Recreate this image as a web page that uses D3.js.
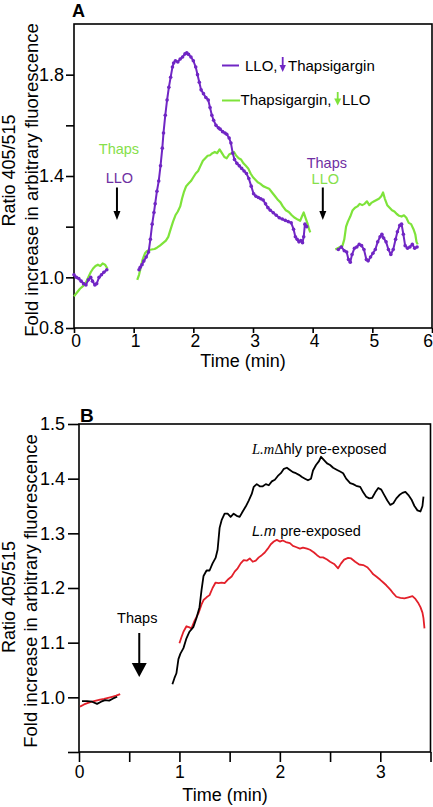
<!DOCTYPE html>
<html>
<head>
<meta charset="utf-8">
<script src="https://cdn.jsdelivr.net/npm/d3@7"></script>
<style>
  html, body { margin: 0; padding: 0; background: #fff; }
  svg { display: block; font-family: "Liberation Sans", Arial, Helvetica, sans-serif; }
</style>
</head>
<body>
<svg id="chart" width="433" height="807"></svg>
<script>
// ---------------- DATA ----------------
// Panel A: [time (min), ratio]; null = gap in recording
const aXTicks = [0, 1, 2, 3, 4, 5, 6];
const aYTicks = [0.8, 1.0, 1.2, 1.4, 1.6, 1.8];
const aYLabels = [0.8, 1.0, 1.4, 1.8];

const aLLOThenThaps = [
  [0,1.01],[0.04,1.0],[0.08,0.995],[0.12,0.985],[0.16,0.975],[0.2,0.97],[0.24,0.99],[0.28,1.0],[0.31,0.985],[0.35,0.97],[0.38,0.975],[0.42,1.0],[0.46,1.01],[0.5,1.02],[0.55,1.03],
  null,
  [1.09,1.03],[1.11,1.04],[1.14,1.05],[1.17,1.064],[1.21,1.08],[1.25,1.10],[1.28,1.15],[1.31,1.21],[1.34,1.256],[1.36,1.29],[1.39,1.34],[1.42,1.38],[1.45,1.44],[1.48,1.51],[1.50,1.57],[1.53,1.64],[1.56,1.70],[1.59,1.75],[1.62,1.79],[1.65,1.83],[1.67,1.846],[1.70,1.855],[1.74,1.85],[1.78,1.862],[1.82,1.87],[1.86,1.882],[1.89,1.886],[1.92,1.88],[1.96,1.87],[2.0,1.855],[2.04,1.83],[2.07,1.80],[2.10,1.77],[2.13,1.74],[2.17,1.725],[2.21,1.71],[2.25,1.70],[2.28,1.67],[2.31,1.64],[2.34,1.62],[2.38,1.60],[2.42,1.59],[2.45,1.585],[2.49,1.575],[2.53,1.57],[2.56,1.565],[2.60,1.55],[2.63,1.53],[2.66,1.49],[2.69,1.465],[2.73,1.45],[2.77,1.44],[2.81,1.43],[2.85,1.42],[2.89,1.41],[2.93,1.39],[2.97,1.36],[3.01,1.33],[3.05,1.32],[3.09,1.315],[3.13,1.31],[3.17,1.305],[3.21,1.29],[3.25,1.275],[3.29,1.265],[3.34,1.255],[3.39,1.245],[3.44,1.235],[3.49,1.23],[3.54,1.225],[3.59,1.22],[3.64,1.215],[3.68,1.19],[3.71,1.16],[3.74,1.15],[3.77,1.14],[3.80,1.145],[3.83,1.137],[3.85,1.16],[3.87,1.21],[3.9,1.2],
  null,
  [4.43,1.11],[4.48,1.12],[4.53,1.105],[4.57,1.10],[4.60,1.07],[4.63,1.06],[4.66,1.09],[4.70,1.115],[4.74,1.12],[4.78,1.13],[4.82,1.125],[4.86,1.11],[4.90,1.07],[4.93,1.065],[4.97,1.08],[5.01,1.095],[5.05,1.11],[5.09,1.14],[5.13,1.16],[5.16,1.17],[5.19,1.155],[5.23,1.14],[5.27,1.11],[5.31,1.09],[5.35,1.11],[5.39,1.15],[5.42,1.18],[5.46,1.205],[5.49,1.21],[5.52,1.17],[5.55,1.125],[5.59,1.115],[5.63,1.12],[5.67,1.13],[5.71,1.115],[5.75,1.12]
];

const aThapsThenLLO = [
  [0,0.925],[0.05,0.94],[0.1,0.955],[0.15,0.965],[0.2,0.98],[0.24,1.0],[0.28,1.02],[0.32,1.035],[0.36,1.045],[0.4,1.05],[0.44,1.045],[0.48,1.055],[0.52,1.05],[0.56,1.035],
  null,
  [1.06,0.99],[1.09,1.01],[1.12,1.04],[1.15,1.07],[1.19,1.095],[1.22,1.103],[1.26,1.108],[1.30,1.11],[1.35,1.112],[1.39,1.117],[1.44,1.125],[1.49,1.135],[1.54,1.145],[1.58,1.16],[1.62,1.19],[1.66,1.22],[1.70,1.245],[1.74,1.26],[1.78,1.28],[1.81,1.31],[1.84,1.335],[1.88,1.36],[1.92,1.37],[1.96,1.38],[2.0,1.395],[2.04,1.41],[2.08,1.42],[2.12,1.44],[2.16,1.46],[2.20,1.47],[2.24,1.48],[2.28,1.482],[2.32,1.49],[2.36,1.495],[2.40,1.49],[2.44,1.505],[2.48,1.49],[2.52,1.475],[2.56,1.47],[2.60,1.485],[2.64,1.49],[2.68,1.495],[2.72,1.48],[2.76,1.47],[2.80,1.465],[2.84,1.45],[2.88,1.44],[2.92,1.43],[2.96,1.41],[3.0,1.395],[3.04,1.385],[3.08,1.375],[3.12,1.37],[3.17,1.36],[3.22,1.355],[3.27,1.35],[3.32,1.335],[3.37,1.32],[3.42,1.305],[3.46,1.296],[3.50,1.28],[3.55,1.265],[3.60,1.258],[3.65,1.245],[3.70,1.235],[3.75,1.228],[3.79,1.223],[3.82,1.24],[3.85,1.256],[3.88,1.235],[3.91,1.215],[3.94,1.19],[3.96,1.177],
  null,
  [4.38,1.11],[4.42,1.115],[4.46,1.12],[4.50,1.125],[4.53,1.15],[4.56,1.2],[4.59,1.22],[4.63,1.24],[4.67,1.265],[4.71,1.275],[4.75,1.28],[4.79,1.29],[4.83,1.285],[4.87,1.29],[4.91,1.30],[4.95,1.285],[4.99,1.295],[5.03,1.30],[5.07,1.305],[5.11,1.31],[5.15,1.32],[5.18,1.335],[5.21,1.31],[5.25,1.285],[5.29,1.275],[5.33,1.265],[5.37,1.26],[5.41,1.25],[5.45,1.243],[5.49,1.24],[5.53,1.245],[5.57,1.235],[5.61,1.215],[5.65,1.21],[5.69,1.19],[5.72,1.17],[5.74,1.14],[5.76,1.13]
];

// Panel B
const bXTicks = [0, 0.5, 1, 1.5, 2, 2.5, 3, 3.5];
const bXLabels = [0, 1, 2, 3];
const bYTicks = [0.9, 1.0, 1.1, 1.2, 1.3, 1.4, 1.5];
const bYLabels = [1.0, 1.1, 1.2, 1.3, 1.4, 1.5];

const bLmDeltaHly = [
  [0.03,0.993],[0.08,0.993],[0.13,0.992],[0.18,0.988],[0.22,0.992],[0.26,0.995],[0.30,0.994],[0.34,0.998],[0.38,1.001],
  null,
  [0.93,1.024],[0.95,1.035],[0.97,1.044],[0.99,1.07],[1.01,1.08],[1.04,1.09],[1.07,1.108],[1.10,1.12],[1.14,1.129],[1.17,1.145],[1.20,1.165],[1.22,1.196],[1.24,1.222],[1.27,1.232],[1.30,1.232],[1.33,1.245],[1.36,1.255],[1.38,1.27],[1.40,1.31],[1.42,1.324],[1.45,1.336],[1.48,1.336],[1.51,1.33],[1.54,1.336],[1.57,1.332],[1.60,1.33],[1.63,1.34],[1.66,1.349],[1.69,1.36],[1.72,1.372],[1.74,1.385],[1.77,1.39],[1.80,1.386],[1.83,1.386],[1.86,1.39],[1.89,1.388],[1.92,1.395],[1.95,1.398],[1.98,1.405],[2.01,1.41],[2.04,1.418],[2.07,1.42],[2.10,1.416],[2.13,1.412],[2.16,1.41],[2.19,1.407],[2.22,1.403],[2.25,1.40],[2.28,1.397],[2.31,1.40],[2.33,1.415],[2.36,1.425],[2.39,1.432],[2.41,1.44],[2.44,1.434],[2.47,1.428],[2.50,1.425],[2.53,1.42],[2.57,1.416],[2.60,1.413],[2.63,1.41],[2.66,1.40],[2.70,1.392],[2.73,1.39],[2.76,1.387],[2.80,1.385],[2.83,1.375],[2.86,1.367],[2.89,1.364],[2.92,1.365],[2.95,1.375],[2.98,1.383],[3.01,1.38],[3.04,1.37],[3.07,1.36],[3.10,1.352],[3.13,1.355],[3.16,1.364],[3.19,1.37],[3.22,1.374],[3.25,1.376],[3.28,1.37],[3.31,1.362],[3.34,1.35],[3.37,1.342],[3.40,1.34],[3.42,1.35],[3.43,1.367]
];

const bLm = [
  [0.01,0.983],[0.05,0.987],[0.09,0.99],[0.13,0.992],[0.17,0.994],[0.21,0.996],[0.25,0.997],[0.29,0.999],[0.33,1.001],[0.37,1.003],[0.41,1.006],
  null,
  [1.0,1.099],[1.02,1.11],[1.04,1.12],[1.07,1.13],[1.10,1.128],[1.12,1.126],[1.15,1.14],[1.19,1.154],[1.22,1.17],[1.24,1.178],[1.27,1.183],[1.30,1.187],[1.33,1.20],[1.36,1.21],[1.39,1.209],[1.42,1.21],[1.45,1.209],[1.48,1.215],[1.52,1.221],[1.55,1.23],[1.58,1.236],[1.61,1.245],[1.64,1.251],[1.67,1.25],[1.70,1.254],[1.73,1.248],[1.76,1.25],[1.79,1.256],[1.82,1.26],[1.85,1.265],[1.88,1.272],[1.91,1.28],[1.94,1.285],[1.97,1.288],[2.0,1.285],[2.03,1.287],[2.06,1.284],[2.10,1.282],[2.13,1.277],[2.16,1.275],[2.20,1.272],[2.23,1.274],[2.27,1.272],[2.30,1.27],[2.34,1.265],[2.37,1.26],[2.40,1.256],[2.43,1.256],[2.47,1.252],[2.50,1.248],[2.54,1.244],[2.58,1.236],[2.61,1.245],[2.64,1.252],[2.68,1.255],[2.71,1.254],[2.75,1.248],[2.79,1.243],[2.83,1.242],[2.87,1.238],[2.90,1.232],[2.93,1.225],[2.96,1.221],[3.0,1.215],[3.03,1.21],[3.06,1.205],[3.10,1.197],[3.13,1.19],[3.16,1.184],[3.20,1.182],[3.24,1.181],[3.28,1.183],[3.32,1.185],[3.35,1.18],[3.38,1.172],[3.40,1.165],[3.42,1.155],[3.43,1.145],[3.44,1.126]
];

// Annotation times (min)
const aArrowTimes = [0.72, 4.17];
const bArrowTimes = [0.6];

// ---------------- DRAW ----------------
const PURPLE = "#7026c4", PURPLE_TXT = "#6f2fa3", GREEN = "#7ee33a", GREEN_TXT = "#86e04a", RED = "#e3202a";
const svg = d3.select("#chart");

function arrow(g, x, y1, y2, hw, hh, color, sw) {
  g.append("line").attr("x1", x).attr("x2", x).attr("y1", y1).attr("y2", y2 - hh + 1)
    .attr("stroke", color).attr("stroke-width", sw);
  g.append("path").attr("d", `M${x - hw},${y2 - hh}L${x + hw},${y2 - hh}L${x},${y2}Z`).attr("fill", color);
}

function styleAxis(g, fs) {
  g.selectAll("line").attr("stroke", "#000").attr("stroke-width", 1.6);
  g.selectAll("text").attr("font-size", fs).attr("fill", "#000")
    .attr("font-family", '"Liberation Sans", Arial, sans-serif');
  g.select(".domain").remove();
}

// ===== Panel A =====
const xA = d3.scaleLinear([0, 6], [74, 432]);
const yA = d3.scaleLinear([0.8, 2.0], [328, 24]);

const gA = svg.append("g");
gA.append("rect").attr("x", xA(0)).attr("y", yA(2.0)).attr("width", xA(6) - xA(0)).attr("height", yA(0.8) - yA(2.0))
  .attr("fill", "none").attr("stroke", "#000").attr("stroke-width", 1.6);

const axAx = gA.append("g").attr("transform", `translate(0,${yA(0.8)})`)
  .call(d3.axisBottom(xA).tickValues(aXTicks).tickSize(5).tickSizeOuter(0).tickPadding(2).tickFormat(d3.format("d")));
styleAxis(axAx, 17.5);
axAx.selectAll("text").attr("dx", 1.5);
axAx.selectAll(".tick").filter(d => d === 6).select("text").attr("text-anchor", "end").attr("dx", 0.5);

const ayAx = gA.append("g").attr("transform", `translate(${xA(0)},0)`)
  .call(d3.axisLeft(yA).tickValues(aYTicks).tickSize(8).tickSizeOuter(0).tickPadding(2)
    .tickFormat(d => aYLabels.some(v => Math.abs(v - d) < 1e-9) ? d3.format(".1f")(d) : ""));
styleAxis(ayAx, 18);

const lineA = d3.line().defined(d => d !== null).x(d => xA(d[0])).y(d => yA(d[1]));
gA.append("path").datum(aThapsThenLLO).attr("d", lineA).attr("fill", "none").attr("stroke", GREEN).attr("stroke-width", 2.2).attr("stroke-linejoin", "round");
gA.append("path").datum(aLLOThenThaps).attr("d", lineA).attr("fill", "none").attr("stroke", PURPLE).attr("stroke-width", 2).attr("stroke-linejoin", "round");
gA.append("g").selectAll("circle").data(aLLOThenThaps.filter(d => d !== null)).join("circle")
  .attr("cx", d => xA(d[0])).attr("cy", d => yA(d[1])).attr("r", 1.8).attr("fill", PURPLE);

// Panel A labels
svg.append("text").attr("x", 72).attr("y", 17).attr("font-size", 18).attr("font-weight", "bold").text("A");
svg.append("text").attr("transform", "translate(15,170.5) rotate(-90)").attr("text-anchor", "middle").attr("font-size", 18).text("Ratio 405/515");
svg.append("text").attr("transform", "translate(37.5,180) rotate(-90)").attr("text-anchor", "middle").attr("font-size", 18.5).text("Fold increase in arbitrary fluorescence");
svg.append("text").attr("x", (xA(0) + xA(6)) / 2 - 10).attr("y", 367).attr("text-anchor", "middle").attr("font-size", 18).text("Time (min)");

// Panel A legend
gA.append("line").attr("x1", 222).attr("x2", 239).attr("y1", 65.5).attr("y2", 65.5).attr("stroke", PURPLE).attr("stroke-width", 2);
gA.append("text").attr("x", 245).attr("y", 70.5).attr("font-size", 15).text("LLO,");
arrow(gA, 282.7, 57, 72, 3.2, 7, PURPLE, 1.8);
gA.append("text").attr("x", 288).attr("y", 70.5).attr("font-size", 15).text("Thapsigargin");
gA.append("line").attr("x1", 222).attr("x2", 240).attr("y1", 100.5).attr("y2", 100.5).attr("stroke", GREEN).attr("stroke-width", 2);
gA.append("text").attr("x", 240.5).attr("y", 105).attr("font-size", 15).text("Thapsigargin,");
arrow(gA, 337.7, 92, 105.5, 3.5, 7, GREEN, 1.8);
gA.append("text").attr("x", 342).attr("y", 105).attr("font-size", 15).text("LLO");

// Panel A treatment arrows
const aAnn = [
  { t: aArrowTimes[0], top: "Thaps", topC: GREEN_TXT, bot: "LLO", botC: PURPLE_TXT, dx: 2 },
  { t: aArrowTimes[1], top: "Thaps", topC: PURPLE_TXT, bot: "LLO", botC: GREEN_TXT, dx: 4 }
];
aAnn.forEach((a, i) => {
  const x = xA(a.t);
  gA.append("text").attr("x", x + a.dx).attr("y", i === 0 ? 154 : 167.5).attr("text-anchor", "middle").attr("font-size", 14.5).attr("fill", a.topC).text(a.top);
  gA.append("text").attr("x", x + 2.5).attr("y", i === 0 ? 182.5 : 184).attr("text-anchor", "middle").attr("font-size", 14.5).attr("fill", a.botC).text(a.bot);
  arrow(gA, x, 187.5, 220, 3.5, 9, "#000", 2);
});

// ===== Panel B =====
const xB = d3.scaleLinear([0, 3.5], [79, 430.5]);
const yB = d3.scaleLinear([0.9, 1.5], [752, 424]);

const gB = svg.append("g");
gB.append("rect").attr("x", xB(0)).attr("y", yB(1.5)).attr("width", xB(3.5) - xB(0)).attr("height", yB(0.9) - yB(1.5))
  .attr("fill", "none").attr("stroke", "#000").attr("stroke-width", 1.6);

const bxAx = gB.append("g").attr("transform", `translate(0,${yB(0.9)})`)
  .call(d3.axisBottom(xB).tickValues(bXTicks).tickSize(10).tickSizeOuter(0).tickPadding(3.5)
    .tickFormat(d => bXLabels.includes(d) ? d3.format("d")(d) : ""));
styleAxis(bxAx, 17.5);

const byAx = gB.append("g").attr("transform", `translate(${xB(0)},0)`)
  .call(d3.axisLeft(yB).tickValues(bYTicks).tickSize(11).tickSizeOuter(0).tickPadding(3)
    .tickFormat(d => bYLabels.some(v => Math.abs(v - d) < 1e-9) ? d3.format(".1f")(d) : ""));
styleAxis(byAx, 18);

const lineB = d3.line().defined(d => d !== null).x(d => xB(d[0])).y(d => yB(d[1]));
gB.append("path").datum(bLm).attr("d", lineB).attr("fill", "none").attr("stroke", RED).attr("stroke-width", 1.8).attr("stroke-linejoin", "round");
gB.append("path").datum(bLmDeltaHly).attr("d", lineB).attr("fill", "none").attr("stroke", "#000").attr("stroke-width", 1.8).attr("stroke-linejoin", "round");

svg.append("text").attr("x", 80).attr("y", 421.5).attr("font-size", 19).attr("font-weight", "bold").text("B");
svg.append("text").attr("transform", "translate(15,597) rotate(-90)").attr("text-anchor", "middle").attr("font-size", 18).text("Ratio 405/515");
svg.append("text").attr("transform", "translate(37,591) rotate(-90)").attr("text-anchor", "middle").attr("font-size", 18.5).text("Fold increase in arbitrary fluorescence");
svg.append("text").attr("x", 225).attr("y", 801).attr("text-anchor", "middle").attr("font-size", 18).text("Time (min)");

// Panel B series labels
const t1 = gB.append("text").attr("x", 252).attr("y", 453.5).attr("font-size", 14.5);
t1.append("tspan").attr("font-family", '"Liberation Serif", "Times New Roman", serif').attr("font-style", "italic").text("L.m");
t1.append("tspan").attr("font-family", '"Liberation Serif", "Times New Roman", serif').text("Δ");
t1.append("tspan").text("hly pre-exposed");
const t2 = gB.append("text").attr("x", 252).attr("y", 536).attr("font-size", 14.5);
t2.append("tspan").attr("font-style", "italic").text("L.m");
t2.append("tspan").text(" pre-exposed");

// Panel B arrow
const xb = xB(bArrowTimes[0]);
gB.append("text").attr("x", xb - 2).attr("y", 623).attr("text-anchor", "middle").attr("font-size", 14.5).text("Thaps");
arrow(gB, xb, 633, 677, 7.5, 14, "#000", 2);
</script>
</body>
</html>
